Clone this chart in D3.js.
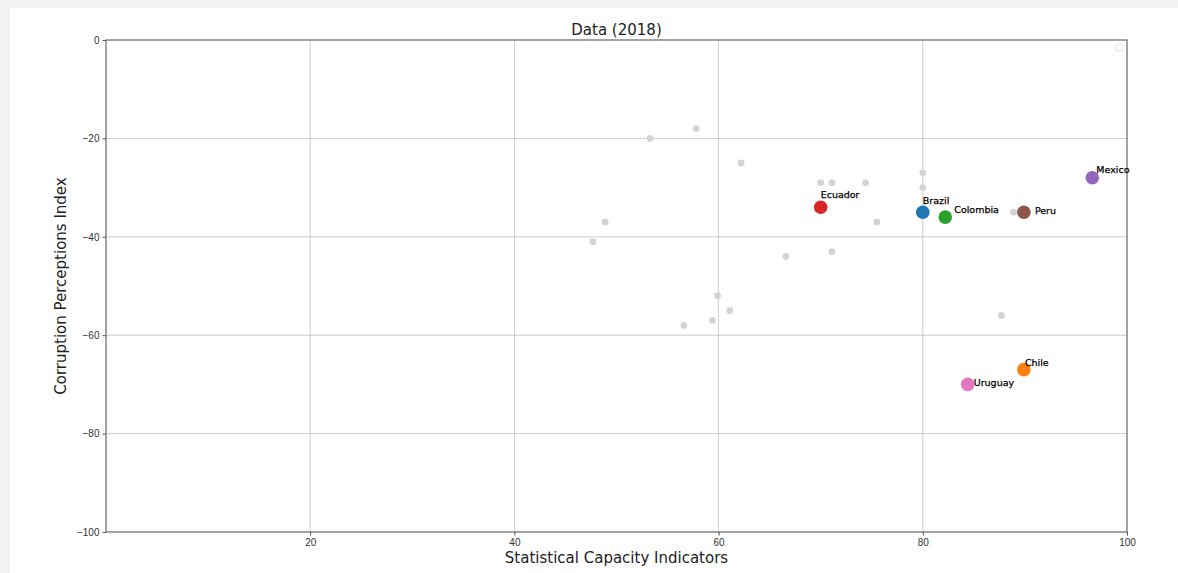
<!DOCTYPE html>
<html>
<head>
<meta charset="utf-8">
<script src="https://cdn.jsdelivr.net/npm/d3@7"></script>
<style>
  html, body { margin: 0; padding: 0; background: #f2f2f2; }
  #chart { position: absolute; left: 10px; top: 8px; width: 1168px; height: 565px; background: #fff; }
  svg { display: block; font-family: "DejaVu Sans", sans-serif; }
</style>
</head>
<body>
<div id="chart"></div>
<script>
// highlighted countries
var countries = ['Brazil', 'Chile', 'Colombia', 'Ecuador', 'Mexico', 'Peru', 'Uruguay'];
var countryX = [80.0, 89.9, 82.2, 70.0, 96.6, 89.9, 84.4];
var countryY = [-35, -67, -36, -34, -28, -35, -70];

// the rest, drawn in grey
var otherX = [53.3, 57.8, 62.2, 70.0, 71.1, 74.4, 80.0, 80.0, 88.9, 48.9, 75.5, 47.7, 66.6, 71.1, 59.9, 61.1, 59.4, 56.6, 87.7];
var otherY = [-20, -18, -25, -29, -29, -29, -27, -30, -35, -37, -37, -41, -44, -43, -52, -55, -57, -58, -56];

var xTicks = [20, 40, 60, 80, 100];
var yTicks = [0, -20, -40, -60, -80, -100];

// label nudges in px (dx, dy from the point centre)
var labelNudge = [[0, -12], [1, -7], [9, -7], [0, -13], [4, -8], [11, -2], [6, -2]];

var colors = d3.schemeCategory10;
var countryColor = [colors[0], colors[1], colors[2], colors[3], colors[4], colors[5], colors[6]];

var width = 1168, height = 565;
var margin = {left: 96, right: 51, top: 32, bottom: 41};

var svg = d3.select('#chart').append('svg')
  .attr('width', width)
  .attr('height', height);

var x = d3.scaleLinear().domain([0, 100]).range([margin.left, width - margin.right]);
var y = d3.scaleLinear().domain([-100, 0]).range([height - margin.bottom, margin.top]);

// grid
svg.append('g').selectAll('line.vx')
  .data(xTicks.slice(0, -1))
  .join('line')
  .attr('x1', function(d){ return x(d); })
  .attr('x2', function(d){ return x(d); })
  .attr('y1', y(0)).attr('y2', y(-100))
  .attr('stroke', '#b0b0b0').attr('stroke-width', 0.8).attr('opacity', 0.8);

svg.append('g').selectAll('line.hy')
  .data(yTicks.slice(1, -1))
  .join('line')
  .attr('y1', function(d){ return y(d); })
  .attr('y2', function(d){ return y(d); })
  .attr('x1', x(0)).attr('x2', x(100))
  .attr('stroke', '#b0b0b0').attr('stroke-width', 0.8).attr('opacity', 0.8);

// axes
var xAxis = d3.axisBottom(x).tickValues(xTicks).tickSize(3.5).tickPadding(3)
  .tickFormat(d3.format('d'));
var yAxis = d3.axisLeft(y).tickValues(yTicks).tickSize(3.5).tickPadding(3)
  .tickFormat(function(d){ return d < 0 ? '\u2212' + Math.abs(d) : d; });

var gx = svg.append('g').attr('transform', 'translate(0,' + y(-100) + ')').call(xAxis);
var gy = svg.append('g').attr('transform', 'translate(' + x(0) + ',0)').call(yAxis);
[gx, gy].forEach(function(g){
  g.select('.domain').remove();
  g.selectAll('line').attr('stroke', '#555');
  g.selectAll('text').attr('fill', '#333').style('font-size', '10px');
});

// frame
svg.append('rect')
  .attr('x', x(0)).attr('y', y(0))
  .attr('width', x(100) - x(0)).attr('height', y(-100) - y(0))
  .attr('fill', 'none').attr('stroke', '#666').attr('stroke-width', 1.2);

// grey points
svg.append('g').selectAll('circle')
  .data(otherX)
  .join('circle')
  .attr('cx', function(d){ return x(d); })
  .attr('cy', function(d, i){ return y(otherY[i]); })
  .attr('r', 3.4)
  .attr('fill', '#d3d3d3');

// highlighted points
svg.append('g').selectAll('circle')
  .data(countries)
  .join('circle')
  .attr('cx', function(d, i){ return x(countryX[i]); })
  .attr('cy', function(d, i){ return y(countryY[i]); })
  .attr('r', 6.8)
  .attr('fill', function(d, i){ return countryColor[i]; });

svg.append('g').selectAll('text')
  .data(countries)
  .join('text')
  .attr('x', function(d, i){ return x(countryX[i]) + labelNudge[i][0]; })
  .attr('y', function(d, i){ return y(countryY[i]) + labelNudge[i][1]; })
  .attr('dy', '0.35em')
  .style('font-size', '9.5px')
  .attr('fill', '#000')
  .attr('stroke', '#000').attr('stroke-width', 0.25)
  .text(function(d){ return d; });

// empty legend box
svg.append('rect')
  .attr('x', x(100) - 11).attr('y', y(0) + 4)
  .attr('width', 7).attr('height', 7).attr('rx', 1.5)
  .attr('fill', '#fff').attr('stroke', '#ddd').attr('stroke-width', 1);

// titles
svg.append('text')
  .attr('x', (x(0) + x(100)) / 2).attr('y', 27)
  .attr('text-anchor', 'middle')
  .style('font-size', '15px').attr('fill', '#222')
  .text('Data (2018)');

svg.append('text')
  .attr('x', (x(0) + x(100)) / 2).attr('y', 555)
  .attr('text-anchor', 'middle')
  .style('font-size', '15px').attr('fill', '#222')
  .text('Statistical Capacity Indicators');

svg.append('text')
  .attr('transform', 'translate(56,' + ((y(0) + y(-100)) / 2) + ') rotate(-90)')
  .attr('text-anchor', 'middle')
  .style('font-size', '15px').attr('fill', '#222')
  .text('Corruption Perceptions Index');
</script>
</body>
</html>
